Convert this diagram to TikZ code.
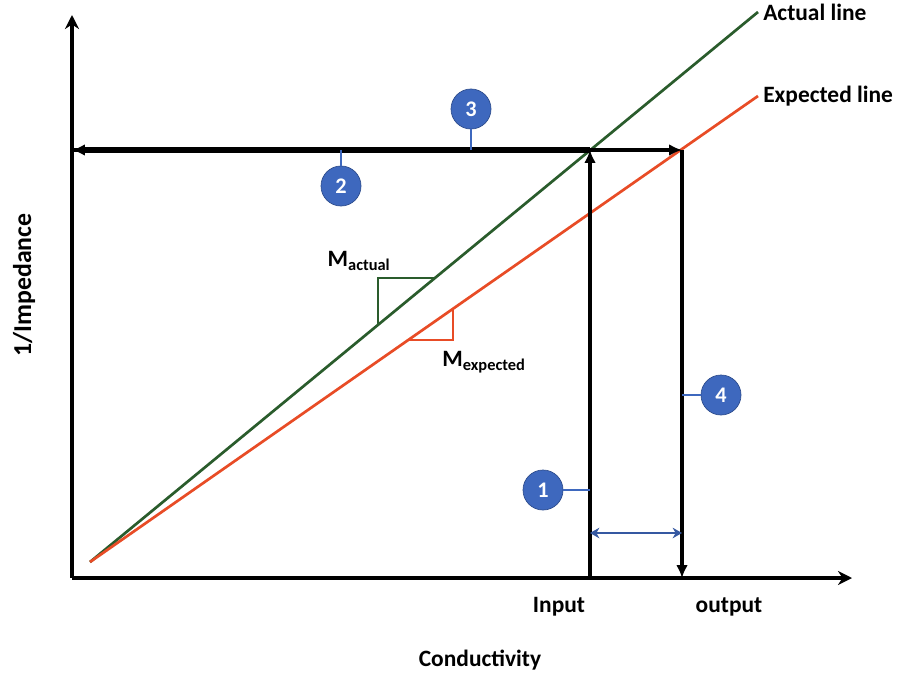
\documentclass[tikz,border=0pt]{standalone}
\usepackage{fontspec}
\setmainfont{Carlito}
\usetikzlibrary{arrows.meta,calc}
\definecolor{actualgreen}{RGB}{42,92,44}
\definecolor{expectedred}{RGB}{232,76,38}
\definecolor{markblue}{RGB}{62,104,190}

\tikzset{
	axis/.style={line width=2.6pt,-{Stealth[length=12pt,width=12pt]}},
	flow/.style={line width=2.6pt,-{Latex[length=11pt,width=10pt]}},
	marker/.style={circle,fill=markblue,draw=markblue!75!black,line width=0.6pt,
		text=white,minimum size=1.2cm,inner sep=0pt,font=\bfseries\fontsize{19}{19}\selectfont},
	tick/.style={markblue,line width=2pt},
}

\begin{document}
\begin{tikzpicture}[x=0.03cm,y=-0.03cm,font=\bfseries\fontsize{20}{24}\selectfont]
	\useasboundingbox (0,0) rectangle (906,675);
	% key points
	\coordinate (O) at (72,578);
	\coordinate (ytop) at (72,15);
	\coordinate (xend) at (852,578);
	\coordinate (start) at (90,562);
	\coordinate (actend) at (758,12);
	\coordinate (expend) at (758,96);
	\coordinate (left) at (72,150);
	\coordinate (inlevel) at (590,150);
	\coordinate (outlevel) at (682,150);
	\coordinate (inbase) at (590,578);
	\coordinate (outbase) at (682,578);
	\coordinate (gapin) at (590,533);
	\coordinate (gapout) at (682,533);
	% axes
	\draw[axis] (O) -- (ytop);
	\draw[axis] (O) -- (xend);
	\node[rotate=90,font=\bfseries\fontsize{22}{24}\selectfont] (ylbl) at (24,285) {1/Impedance};
	\node (xlbl) at (480,660) {Conductivity};
	\node (inlbl) at (559,607) {Input};
	\node (outlbl) at (729,607) {output};
	% the two lines
	\draw[actualgreen,line width=2.3pt] (start) -- (actend)
		node[anchor=west,black] (actlbl) {Actual line};
	\draw[expectedred,line width=2.3pt] (start) -- (expend)
		node[anchor=west,black] (explbl) {Expected line};
	% slopes
	\coordinate (ga) at ($(start)!0.431!(actend)$);
	\coordinate (gb) at ($(start)!0.516!(actend)$);
	\draw[actualgreen,line width=1.5pt] (ga) |- (gb);
	\coordinate (ra) at ($(start)!0.476!(expend)$);
	\coordinate (rb) at ($(start)!0.543!(expend)$);
	\draw[expectedred,line width=1.5pt] (ra) -| (rb);
	\node (mact) at (359,261) {M\textsubscript{actual}};
	\node (mexp) at (484,362) {M\textsubscript{expected}};
	% arrows
	\draw[flow] (inbase) -- (inlevel);
	\draw[flow,line width=4.5pt] (inlevel) -- (left);
	\draw[flow] (left) -- (outlevel);
	\draw[flow] (outlevel) -- (outbase);
	\draw[markblue!85!black,line width=1.8pt,{Stealth[length=8pt,width=9pt]}-{Stealth[length=8pt,width=9pt]}]
		(gapin) -- (gapout);
	% markers
	\node[marker] (m1) at (543,490) {1};
	\node[marker] (m2) at (341,186) {2};
	\node[marker] (m3) at (471,109) {3};
	\node[marker] (m4) at (721,395) {4};
	\draw[tick] (m1) -- (m1 -| inlevel);
	\draw[tick] (m2) -- (m2 |- left);
	\draw[tick] (m3) -- (m3 |- left);
	\draw[tick] (m4) -- (m4 -| outlevel);
\end{tikzpicture}
\end{document}
